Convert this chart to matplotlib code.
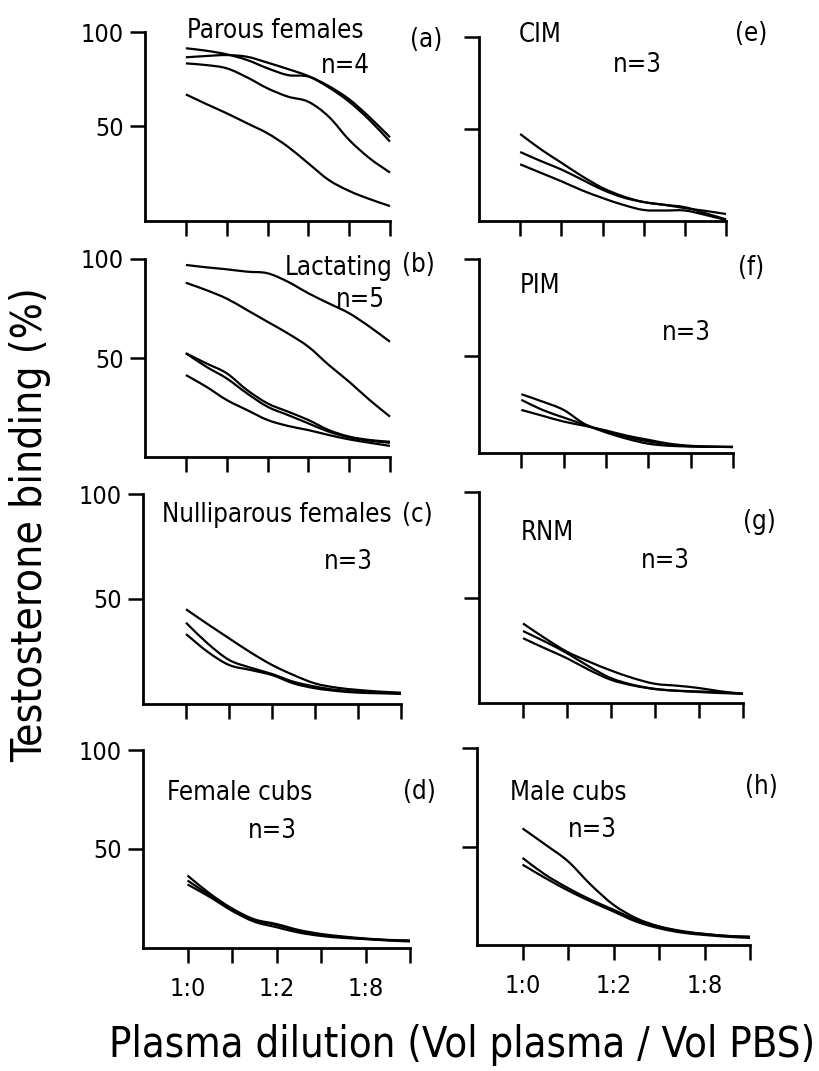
import numpy as np
import matplotlib
matplotlib.use("Agg")
from matplotlib import pyplot as plt
from matplotlib.path import Path
from matplotlib.patches import PathPatch

plt.rcParams["font.family"] = ["DejaVu Sans"]
plt.rcParams["font.stretch"] = "condensed"

# dilution steps (1:0 ... 1:16), read at whole and half steps
dil = np.arange(11) / 2.0
dil_ticks = [0, 1, 2, 3, 4, 5]
dil_labels = ["1:0", "", "1:2", "", "1:8", ""]

# testosterone binding (%) per animal
parous = [
    [91.4, 90.1, 88.2, 85.2, 80.8, 77.2, 76.4, 70.7, 63.1, 53.4, 42.0],
    [86.6, 87.3, 87.8, 86.9, 83.8, 80.4, 76.7, 71.4, 64.4, 54.9, 44.3],
    [83.4, 82.5, 80.8, 76.0, 70.2, 65.8, 63.1, 55.2, 42.9, 33.2, 25.6],
    [67.0, 61.9, 57.0, 51.7, 46.4, 39.3, 30.5, 21.7, 15.9, 11.6, 7.9],
]
lactating = [
    [97.0, 95.8, 94.8, 93.6, 92.8, 88.5, 82.7, 77.6, 72.6, 65.8, 58.2],
    [88.0, 84.3, 80.0, 74.2, 68.3, 62.4, 55.7, 46.5, 38.0, 28.8, 20.4],
    [52.4, 47.3, 42.3, 33.8, 27.1, 22.9, 18.7, 13.6, 10.3, 8.6, 7.7],
    [52.4, 45.6, 39.7, 32.1, 25.4, 21.2, 17.0, 12.8, 9.9, 8.2, 7.2],
    [41.4, 35.5, 28.8, 23.7, 18.7, 15.7, 13.6, 11.1, 8.9, 7.2, 5.6],
]
nullip = [
    [45.1, 38.1, 31.3, 24.6, 18.6, 13.8, 9.8, 7.8, 6.7, 5.9, 5.4],
    [38.7, 28.9, 21.0, 17.3, 14.3, 10.6, 8.3, 6.7, 5.9, 5.4, 5.1],
    [33.3, 24.9, 18.6, 16.2, 13.8, 9.8, 7.5, 6.2, 5.4, 5.1, 4.8],
]
fem_cubs = [
    [36.6, 27.5, 20.0, 14.5, 12.1, 9.1, 7.1, 5.8, 4.8, 4.1, 3.8],
    [34.1, 26.6, 19.5, 14.1, 11.6, 8.6, 6.6, 5.5, 4.6, 4.0, 3.6],
    [32.1, 25.8, 18.8, 13.3, 10.5, 7.8, 6.1, 5.1, 4.5, 3.8, 3.3],
]
cim = [
    [47.3, 39.0, 31.7, 24.4, 18.0, 13.4, 10.3, 8.8, 7.0, 5.5, 3.8],
    [37.5, 32.6, 28.0, 22.5, 17.0, 12.8, 10.3, 8.8, 7.5, 4.2, 0.9],
    [30.8, 26.2, 21.6, 16.7, 12.5, 8.8, 6.0, 5.7, 5.7, 3.3, 0.5],
]
pim = [
    [30.3, 26.5, 22.2, 14.9, 11.1, 8.2, 6.0, 4.3, 3.4, 3.2, 3.1],
    [27.4, 22.2, 18.3, 14.5, 10.6, 7.3, 4.8, 3.7, 3.4, 3.2, 3.1],
    [22.2, 19.2, 16.2, 14.0, 11.6, 8.9, 6.8, 4.8, 3.7, 3.3, 3.1],
]
rnm = [
    [37.7, 30.7, 24.3, 19.6, 15.4, 11.8, 9.1, 8.2, 7.1, 5.5, 4.4],
    [34.1, 29.1, 23.6, 17.3, 11.8, 8.6, 6.7, 5.8, 5.5, 5.0, 4.4],
    [30.7, 25.9, 21.2, 15.7, 11.0, 8.3, 6.6, 5.8, 5.2, 4.7, 4.4],
]
male_cubs = [
    [59.2, 51.0, 42.5, 30.6, 20.4, 13.6, 9.4, 6.8, 5.6, 4.6, 4.3],
    [44.2, 35.7, 28.9, 23.0, 17.9, 12.8, 9.4, 7.1, 5.6, 4.6, 3.9],
    [40.8, 34.0, 27.7, 22.1, 17.0, 11.9, 8.5, 6.3, 5.1, 4.2, 3.6],
]

groups = ["Parous females", "Lactating", "Nulliparous females", "Female cubs",
          "CIM", "PIM", "RNM", "Male cubs"]
series = [parous, lactating, nullip, fem_cubs, cim, pim, rnm, male_cubs]
letters = ["(a)", "(b)", "(c)", "(d)", "(e)", "(f)", "(g)", "(h)"]
counts = ["n=4", "n=5", "n=3", "n=3", "n=3", "n=3", "n=3", "n=3"]

W, H = 819, 1071
fig = plt.figure(figsize=(W / 100, H / 100), dpi=100)

# axes boxes in pixels: spine x, axis end x, top (100 %) y, bottom y
boxes = [
    (145, 390, 32, 221), (145, 390, 259, 457), (143, 401, 494, 704), (143, 410, 750, 948),
    (479, 726, 37, 221), (479, 733, 259, 453), (479, 743, 492, 703), (477, 750, 748, 945),
]
# group name (left x, baseline), n (x, baseline, align), letter (left x, center y)
name_pos = [(187, 38), (285, 275), (162, 522), (167, 800),
            (519, 42), (520, 293), (521, 540), (510, 800)]
n_pos = [(370, 73, "right"), (385, 307, "right"), (373, 569, "right"), (248, 838, "left"),
         (613, 72, "left"), (662, 340, "left"), (641, 568, "left"), (568, 837, "left")]
let_pos = [(410, 40), (402, 265), (402, 515), (403, 792),
           (735, 34), (738, 268), (743, 522), (745, 787)]

FS = 18.5


def ftext(x, y, s, **kw):
    fig.text(x / W, 1 - y / H, s, **kw)


def smooth_curve(ax, x, y):
    # cubic bezier through the read points (catmull-rom tangents)
    pts = np.column_stack([x, y])
    tan = np.gradient(pts, axis=0)
    verts = [pts[0]]
    codes = [Path.MOVETO]
    for k in range(len(pts) - 1):
        verts += [pts[k] + tan[k] / 3, pts[k + 1] - tan[k + 1] / 3, pts[k + 1]]
        codes += [Path.CURVE4] * 3
    ax.add_patch(PathPatch(Path(verts, codes), fill=False, edgecolor="black",
                           lw=1.6, joinstyle="round", capstyle="butt", clip_on=False))


for i, (x0, x1, y0, y1) in enumerate(boxes):
    ax = fig.add_axes([x0 / W, 1 - y1 / H, (x1 - x0) / W, (y1 - y0) / H])
    for curve in series[i]:
        smooth_curve(ax, dil, curve)
    ax.set_xlim(-1, 5)
    ax.set_ylim(0, 100)
    for side in ["top", "right"]:
        ax.spines[side].set_visible(False)
    for side in ["left", "bottom"]:
        ax.spines[side].set_linewidth(2.0)
    ax.set_xticks(dil_ticks)
    ax.set_yticks([50, 100])
    ax.tick_params(direction="out", length=11, width=1.8, labelsize=18)
    ax.tick_params(axis="x", pad=10)
    ax.tick_params(axis="y", pad=4)
    if i % 4 == 3:
        ax.set_xticklabels(dil_labels)
    else:
        ax.tick_params(labelbottom=False)
    if i >= 4:
        ax.tick_params(labelleft=False)
    ax.patch.set_visible(False)

    ftext(*name_pos[i], groups[i], fontsize=FS, va="baseline", ha="left")
    nx, ny, na = n_pos[i]
    ftext(nx, ny, counts[i], fontsize=FS, va="baseline", ha=na)
    ftext(*let_pos[i], letters[i], fontsize=FS, va="center", ha="left")

ftext(30, 525, "Testosterone binding (%)", fontsize=30.5, rotation=90,
      ha="center", va="center")
ftext(462, 1045, "Plasma dilution (Vol plasma / Vol PBS)", fontsize=30,
      ha="center", va="center")

fig.savefig("out.png", dpi=100)
